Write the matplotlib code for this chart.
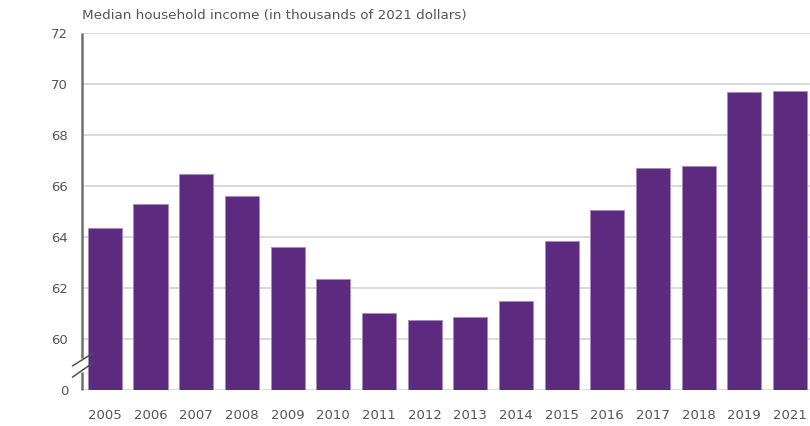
import matplotlib
matplotlib.use("Agg")
import matplotlib.pyplot as plt
import numpy as np

years = ["2005", "2006", "2007", "2008", "2009", "2010", "2011", "2012",
         "2013", "2014", "2015", "2016", "2017", "2018", "2019", "2021"]
income = [64.35, 65.3, 66.46, 65.6, 63.6, 62.35, 61.0, 60.75,
          60.87, 61.48, 63.83, 65.07, 66.7, 66.8, 69.67, 69.73]
ytick_vals = [58, 60, 62, 64, 66, 68, 70, 72]
ytick_labels = ["0", "60", "62", "64", "66", "68", "70", "72"]

BASE = 58  # broken axis: "0" sits where 58 would be
purple = "#5c2a7e"
text_c = "#555555"

plt.rcParams['font.family'] = ['DejaVu Sans']

fig = plt.figure(figsize=(8.1, 4.26), dpi=100)
ax = fig.add_axes([82 / 810, 1 - 390 / 426, 1 - 82 / 810, (390 - 33) / 426])

x = np.arange(len(years))
vals = np.array(income)
ax.bar(x, vals - BASE, bottom=BASE, width=0.745, color=purple,
       edgecolor="#a88bbd", linewidth=0.6, zorder=3)

ax.set_xlim(-0.5, 15.44)
ax.set_ylim(BASE, 72)
ax.set_yticks(ytick_vals)
ax.set_yticklabels(ytick_labels)
ax.set_xticks(x)
ax.set_xticklabels(years)
ax.tick_params(axis="both", length=0, colors=text_c, labelsize=9.5)
ax.tick_params(axis="x", pad=14)
ax.tick_params(axis="y", pad=10)

for v in ytick_vals:
    ax.axhline(v, color="#d9d9d9", lw=1.4, zorder=1)

for s in ["top", "right", "left", "bottom"]:
    ax.spines[s].set_visible(False)

# left axis line with a break between 0 and 60
tr = ax.get_yaxis_transform()
ax.plot([0, 0], [59.25, 72], color="#707070", lw=1.8, transform=tr,
        clip_on=False, zorder=4, solid_capstyle="butt")
ax.plot([0, 0], [BASE, 58.7], color="#707070", lw=1.8, transform=tr,
        clip_on=False, zorder=4, solid_capstyle="butt")
ax.plot([-0.0128, 0.0147], [58.95, 59.44], color="#505050", lw=1.1,
        transform=tr, clip_on=False, zorder=5)
ax.plot([-0.0128, 0.0147], [58.51, 59.06], color="#505050", lw=1.1,
        transform=tr, clip_on=False, zorder=5)

fig.text(82 / 810, 1 - 15 / 426, "Median household income (in thousands of 2021 dollars)",
         ha="left", va="center", fontsize=9.7, color=text_c)

fig.savefig("out.png", dpi=100)
